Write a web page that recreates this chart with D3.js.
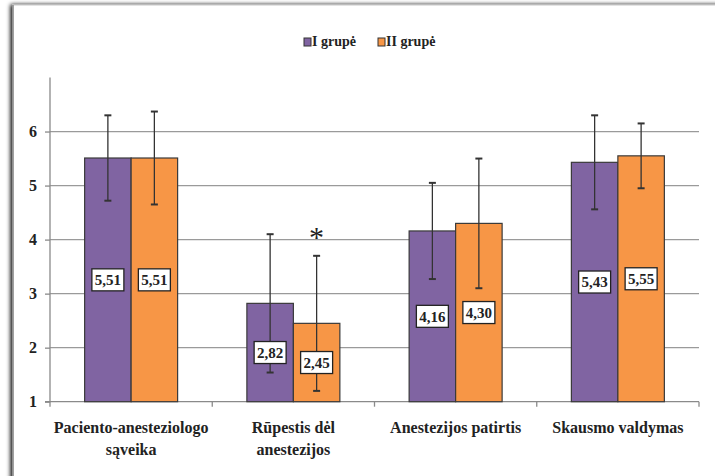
<!DOCTYPE html>
<html><head><meta charset="utf-8">
<script src="https://cdn.jsdelivr.net/npm/d3@7"></script>
<style>body{margin:0;background:#fff;}svg{display:block;}</style>
</head><body>
<svg id="chart" width="715" height="476"></svg>
<script>
const categories = [["Paciento-anesteziologo","sąveika"],["Rūpestis dėl","anestezijos"],["Anestezijos patirtis"],["Skausmo valdymas"]];
const seriesNames = ["I grupė","II grupė"];
const group1 = [5.51, 2.82, 4.16, 5.43];
const group2 = [5.51, 2.45, 4.30, 5.55];
const err1 = [0.79, 1.28, 0.89, 0.87];
const err2 = [0.86, 1.25, 1.20, 0.60];
const labels1 = ["5,51","2,82","4,16","5,43"];
const labels2 = ["5,51","2,45","4,30","5,55"];
const yTicks = [1,2,3,4,5,6];
const colors = ["#8064A2","#F79646"];
const significant = [false, true, false, false];

(function(){
const svg = d3.select("#chart");

// frame
const defs = svg.append("defs");
const f = defs.append("filter").attr("id","sh").attr("x","-5%").attr("y","-5%").attr("width","110%").attr("height","110%");
f.append("feGaussianBlur").attr("in","SourceAlpha").attr("stdDeviation",2);
f.append("feOffset").attr("dx",-2).attr("dy",0).attr("result","ob");
const fm = f.append("feMerge"); fm.append("feMergeNode").attr("in","ob"); fm.append("feMergeNode").attr("in","SourceGraphic");
svg.append("rect").attr("x",13).attr("y",5).attr("width",740).attr("height",520)
  .attr("fill","#fff").attr("stroke","#c8c8c8").attr("stroke-width",1).attr("filter","url(#sh)");
svg.append("line").attr("x1",13).attr("x2",13).attr("y1",5).attr("y2",476).attr("stroke","#8a8a8a").attr("stroke-width",1.5);

const pLeft = 50, pRight = 699, pTop = 77.5, pBottom = 401.7;
const x = d3.scaleBand().domain(d3.range(categories.length)).range([pLeft,pRight]).paddingInner(0).paddingOuter(0);
const xs = d3.scaleBand().domain([0,1]).range([0,x.bandwidth()]).paddingOuter(0.745).paddingInner(0);
const y = d3.scaleLinear().domain([1,7]).range([pBottom, pTop]);

// grid
svg.append("g").selectAll("line").data(yTicks.filter(d=>d>1)).join("line")
  .attr("x1",pLeft).attr("x2",pRight).attr("y1",d=>y(d)).attr("y2",d=>y(d))
  .attr("stroke","#9a9a9a").attr("stroke-width",1.3);

// y axis
const yAxis = d3.axisLeft(y).tickValues(yTicks).tickSize(5).tickPadding(8).tickFormat(d3.format("d"));
const ya = svg.append("g").attr("transform",`translate(${pLeft},0)`).call(yAxis);
ya.select(".domain").attr("stroke","#8a8a8a").attr("stroke-width",1.3).attr("d",`M-5,${pBottom}H0V${pTop}`);
ya.selectAll(".tick line").attr("stroke","#8a8a8a").attr("stroke-width",1.3);
ya.selectAll("text").attr("font-weight","bold").attr("font-size",16).attr("fill","#222");

// x axis
const xa = svg.append("g").attr("transform",`translate(0,${pBottom})`);
xa.append("line").attr("x1",pLeft).attr("x2",pRight).attr("stroke","#8a8a8a").attr("stroke-width",1.3);
xa.selectAll(".tk").data(d3.range(categories.length+1)).join("line")
  .attr("x1",d=>pLeft+d*x.bandwidth()).attr("x2",d=>pLeft+d*x.bandwidth()).attr("y1",0).attr("y2",5)
  .attr("stroke","#8a8a8a").attr("stroke-width",1.3);
const cl = xa.selectAll(".cl").data(categories).join("text")
  .attr("text-anchor","middle").attr("font-weight","bold").attr("font-size",16).attr("fill","#222")
  .attr("transform",(d,i)=>`translate(${x(i)+x.bandwidth()/2},0)`);
cl.selectAll("tspan").data(d=>d).join("tspan").attr("x",0).attr("y",(d,i)=>31+i*22).text(d=>d);

// bars
const series = [group1, group2];
const errs = [err1, err2];
const lbls = [labels1, labels2];
series.forEach((vals, s) => {
  const g = svg.append("g");
  g.selectAll("rect").data(vals).join("rect")
    .attr("x",(d,i)=>x(i)+xs(s)).attr("width",xs.bandwidth())
    .attr("y",d=>y(d)).attr("height",d=>y(1)-y(d))
    .attr("fill",colors[s]).attr("stroke","#3a3a3a").attr("stroke-width",1.2);
});
// error bars
series.forEach((vals, s) => {
  const g = svg.append("g").attr("stroke","#333").attr("stroke-width",1.3);
  vals.forEach((v,i)=>{
    const cx = x(i)+xs(s)+xs.bandwidth()/2;
    const e = errs[s][i];
    g.append("line").attr("x1",cx).attr("x2",cx).attr("y1",y(v+e)).attr("y2",y(v-e));
    g.append("line").attr("x1",cx-3.5).attr("x2",cx+3.5).attr("y1",y(v+e)).attr("y2",y(v+e)).attr("stroke-width",2);
    g.append("line").attr("x1",cx-3.5).attr("x2",cx+3.5).attr("y1",y(v-e)).attr("y2",y(v-e)).attr("stroke-width",2);
  });
});
// value labels
series.forEach((vals, s) => {
  vals.forEach((v,i)=>{
    const cx = x(i)+xs(s)+xs.bandwidth()/2;
    const cy = y((v+1)/2);
    const g = svg.append("g").attr("transform",`translate(${cx},${cy})`);
    g.append("rect").attr("x",-16).attr("y",-11).attr("width",32).attr("height",22)
      .attr("fill","#fff").attr("stroke","#222").attr("stroke-width",1.3);
    g.append("text").attr("text-anchor","middle").attr("dy","0.35em")
      .attr("font-weight","bold").attr("font-size",15).attr("fill","#222")
      .text(lbls[s][i]);
  });
});
// significance marker
significant.forEach((sig,i)=>{
  if(!sig) return;
  const cx = x(i)+xs(1)+xs.bandwidth()/2;
  svg.append("text").attr("x",cx).attr("y",y(group2[i]+err2[i])-9).attr("text-anchor","middle")
    .attr("font-size",30).attr("fill","#222").text("*");
});

// legend
const lg = svg.append("g").attr("transform","translate(304,43)");
const items = [{n:seriesNames[0],c:colors[0],x:0},{n:seriesNames[1],c:colors[1],x:74}];
items.forEach(it=>{
  lg.append("rect").attr("x",it.x).attr("y",-5).attr("width",7).attr("height",8).attr("fill",it.c).attr("stroke","#333").attr("stroke-width",1);
  lg.append("text").attr("x",it.x+8).attr("y",3).attr("font-weight","bold").attr("font-size",14).attr("fill","#222").text(it.n);
});

svg.selectAll("text").style("font-family",'"Liberation Serif", serif');
})();
</script>
</body></html>
